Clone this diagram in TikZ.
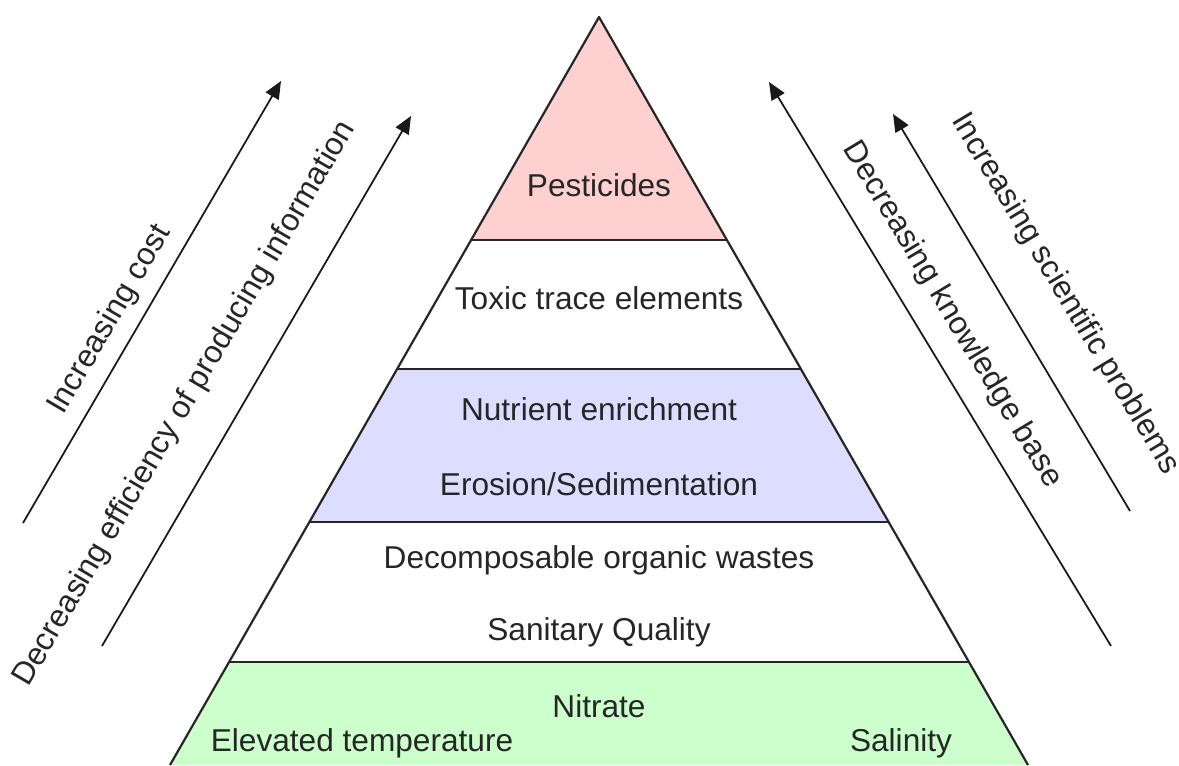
\documentclass[tikz,border=0pt]{standalone}
\usepackage{fontspec}
\setmainfont{Liberation Sans}
\usetikzlibrary{arrows.meta}
\definecolor{toppink}{RGB}{255,208,208}
\definecolor{midblue}{RGB}{221,221,255}
\definecolor{basegreen}{RGB}{204,255,204}
\tikzstyle{layer}=[draw=black!85,line width=1.25pt,line join=round]
\tikzstyle{lbl}=[font=\fontsize{18}{21}\selectfont,text=black!85,inner sep=1pt]
\tikzstyle{arr}=[-{Triangle[length=10pt,width=8.5pt]},line width=1pt,draw=black!90]
\begin{document}
\begin{tikzpicture}[x=0.02cm,y=-0.02cm]
\useasboundingbox (0,0) rectangle (1179,765);
% layers of the pyramid
\fill[toppink] (599,17) -- (726.9,240) -- (471.1,240) -- cycle;
\fill[midblue] (397.1,369) -- (800.9,369) -- (888.6,522) -- (309.4,522) -- cycle;
\fill[basegreen] (229.1,662) -- (968.9,662) -- (1028,765) -- (170,765) -- cycle;
\draw[layer] (170,765) -- (599,17) -- (1028,765);
\foreach \y in {240,369,522,662} {
  \pgfmathsetmacro\xl{599-0.5735*(\y-17)}
  \pgfmathsetmacro\xr{599+0.5735*(\y-17)}
  \draw[layer] (\xl,\y) -- (\xr,\y);
}
% layer texts
\node (pest) [lbl] at (599,185) {Pesticides};
\node (toxic) [lbl] at (599,298) {Toxic trace elements};
\node (nutr) [lbl] at (599,409) {Nutrient enrichment};
\node (eros) [lbl] at (599,484) {Erosion/Sedimentation};
\node (decomp) [lbl] at (599,560) {Decomposable organic wastes};
\node (sanit) [lbl] at (599,632) {Sanitary Quality};
\node (nitr) [lbl] at (599,706) {Nitrate};
\node (temp) [lbl] at (362,743) {Elevated temperature};
\node (salin) [lbl] at (901,743) {Salinity};
% side arrows
\coordinate (costA) at (23,523);
\coordinate (costB) at (281,81);
\coordinate (effA) at (102,646);
\coordinate (effB) at (411,116);
\coordinate (knowA) at (1111,646);
\coordinate (knowB) at (769,82);
\coordinate (probA) at (1130,511);
\coordinate (probB) at (893,114);
\draw[arr] (costA) -- (costB);
\draw[arr] (effA) -- (effB);
\draw[arr] (knowA) -- (knowB);
\draw[arr] (probA) -- (probB);
\node (cost) [lbl,rotate=59.7] at (110,320) {Increasing cost};
\node (eff) [lbl,rotate=59.7] at (185,404) {Decreasing efficiency of producing information};
\node (know) [lbl,rotate=-59] at (952,315) {Decreasing knowledge base};
\node (prob) [lbl,rotate=-59] at (1065,294) {Increasing scientific problems};
\end{tikzpicture}
\end{document}
